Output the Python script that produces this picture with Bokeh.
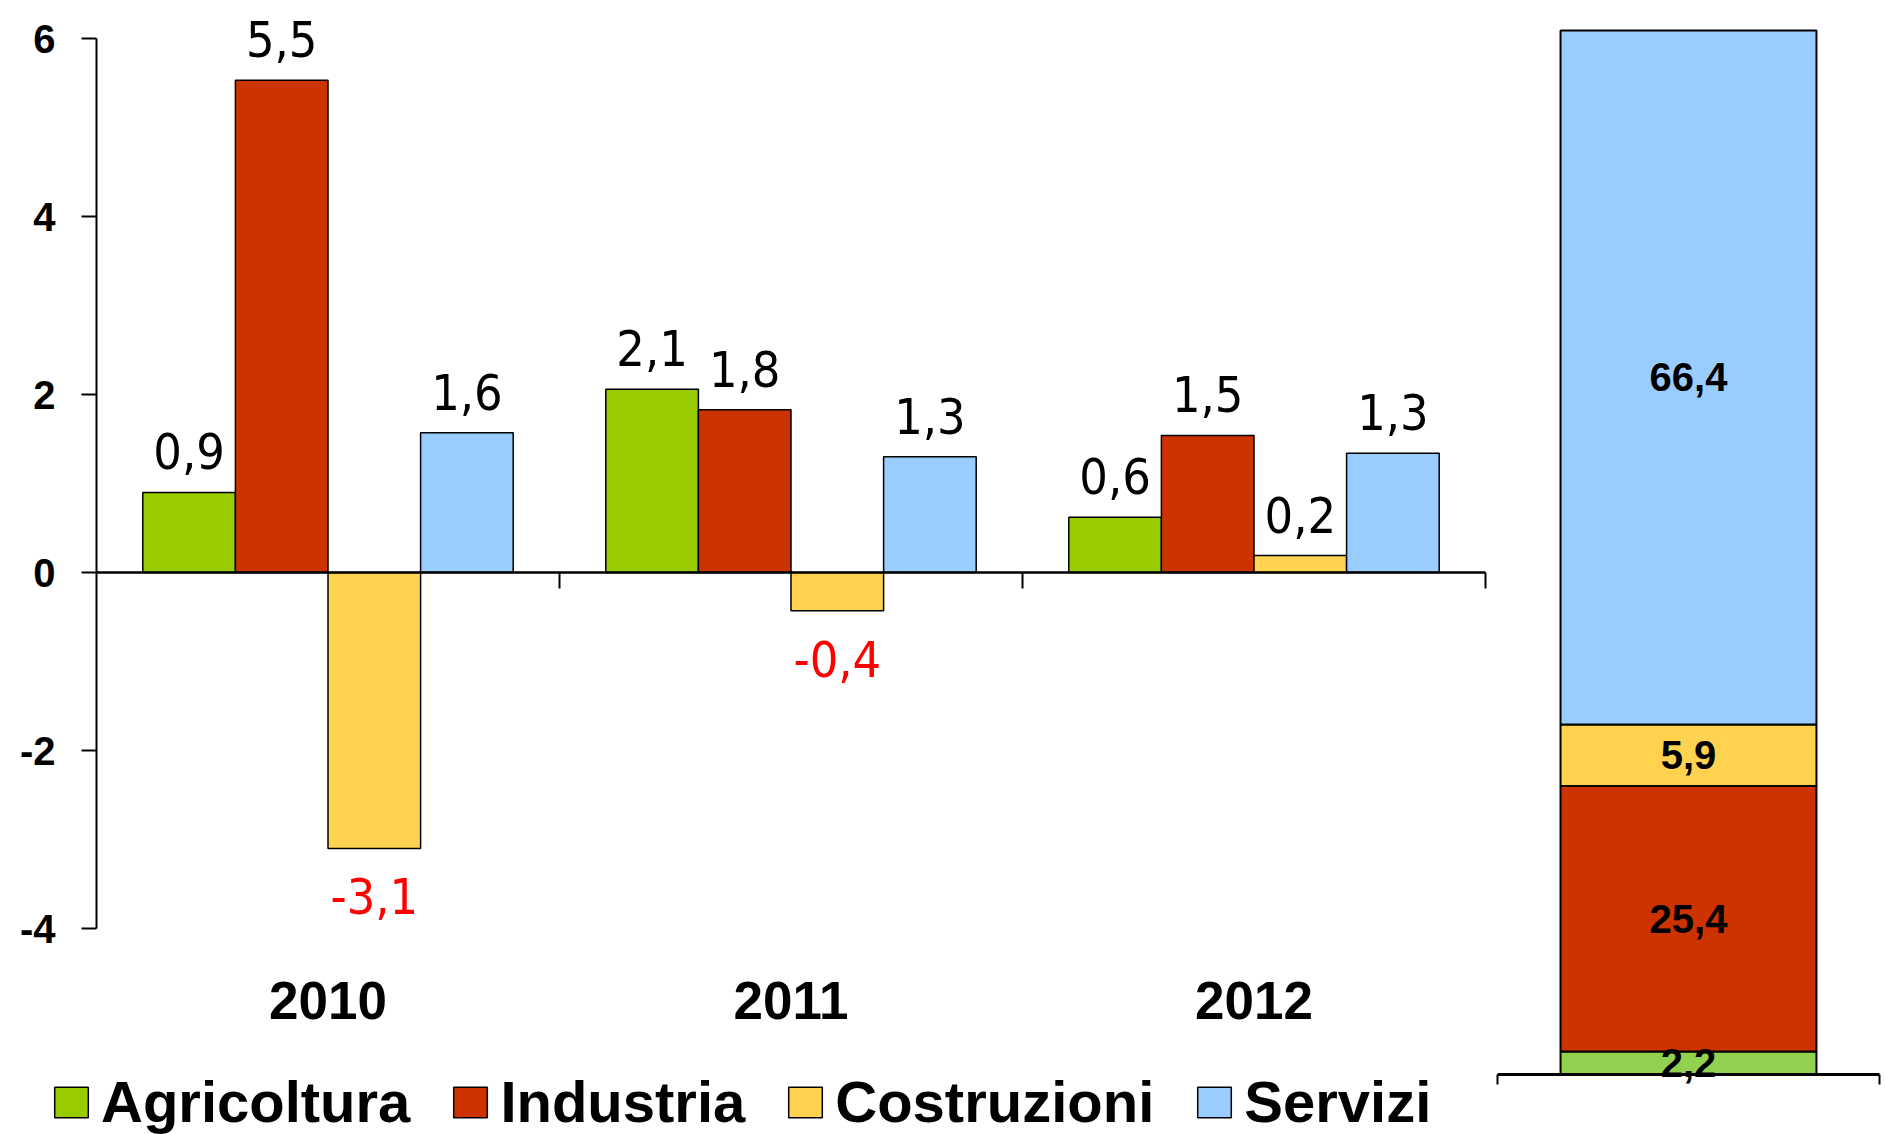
from bokeh.plotting import figure
from bokeh.models import (ColumnDataSource, Range1d, LinearAxis, FixedTicker,
                          LabelSet, Legend, LegendItem)
from bokeh.transform import dodge
from bokeh.embed import file_html
from bokeh.resources import INLINE
from bokeh.core.properties import value

# ---------------- data ----------------
years = ["2010", "2011", "2012"]
sectors = ["Agricoltura", "Industria", "Costruzioni", "Servizi"]
agricoltura = [0.9, 2.06, 0.62]
industria = [5.53, 1.83, 1.54]
costruzioni = [-3.1, -0.43, 0.19]
servizi = [1.57, 1.3, 1.34]
shares = [2.2, 25.4, 5.9, 66.4]          # composizione (Agricoltura, Industria, Costruzioni, Servizi)
y_ticks = [-4, -2, 0, 2, 4, 6]

series = [agricoltura, industria, costruzioni, servizi]
colors = ["#99CC00", "#CC3300", "#FFD34F", "#99CCFF"]
share_colors = ["#92D050", "#CC3300", "#FFD34F", "#99CCFF"]
offsets = [-0.3, -0.1, 0.1, 0.3]


def fmt(v):
    return f"{v:.1f}".replace(".", ",")


# ---------------- layout (canvas pixels) ----------------
W, H = 1885, 1134
X0, UX = 96, 463          # main chart: x=0 position, px per year slot
Y0, UY = 572, 89          # main chart: y=0 position, px per unit
CX0, CUX = 1497, 382      # composition bar: slot start, slot width
CY0, CUY = 1074, 10.45    # composition bar: 0 position, px per percentage point

xc = [i + 0.5 for i in range(len(years))]

p = figure(width=W, height=H,
           x_range=Range1d(-X0 / UX, (W - X0) / UX),
           y_range=Range1d(-(H - Y0) / UY, Y0 / UY),
           min_border=0, min_border_left=0, min_border_right=0,
           min_border_top=0, min_border_bottom=0,
           x_axis_location=None, y_axis_location=None,
           output_backend="svg", toolbar_location=None)
p.extra_x_ranges = {"comp": Range1d(-CX0 / CUX, (W - CX0) / CUX)}
p.extra_y_ranges = {"comp": Range1d(-(H - CY0) / CUY, CY0 / CUY)}
p.outline_line_color = None
p.xgrid.visible = False
p.ygrid.visible = False
p.background_fill_color = "white"
p.border_fill_color = "white"

# y axis
yax = LinearAxis(fixed_location=0, bounds=(y_ticks[0], y_ticks[-1]),
                 ticker=FixedTicker(ticks=y_ticks),
                 major_label_overrides={t: str(t) for t in y_ticks},
                 axis_line_width=2, major_tick_line_width=2,
                 major_tick_in=0, major_tick_out=15,
                 minor_tick_line_color=None, major_label_standoff=26,
                 major_label_text_font="Liberation Sans",
                 major_label_text_font_style="bold",
                 major_label_text_font_size="40px",
                 major_label_text_color="black")
p.add_layout(yax, "left")

# year labels
xax = LinearAxis(fixed_location=y_ticks[0], ticker=FixedTicker(ticks=xc),
                 major_label_overrides={x: y for x, y in zip(xc, years)},
                 axis_line_color=None, major_tick_line_color=None,
                 minor_tick_line_color=None, major_tick_out=0, major_tick_in=0,
                 major_label_standoff=53,
                 major_label_text_font="Liberation Sans",
                 major_label_text_font_style="bold",
                 major_label_text_font_size="53px",
                 major_label_text_color="black")
p.add_layout(xax, "below")

# zero line with year-boundary ticks
bticks = list(range(1, len(years) + 1))
zax = LinearAxis(fixed_location=0, bounds=(0, len(years)),
                 ticker=FixedTicker(ticks=bticks),
                 major_label_overrides={t: "" for t in bticks},
                 axis_line_width=2.5, major_tick_line_width=2,
                 major_tick_in=0, major_tick_out=16,
                 minor_tick_line_color=None)
p.add_layout(zax, "below")

src = ColumnDataSource(dict(x=xc, **{s: v for s, v in zip(sectors, series)}))

items = []
for s, vals, c, off in zip(sectors, series, colors, offsets):
    r = p.vbar(x=dodge("x", off), top=s, bottom=0, width=0.2,
               source=src, fill_color=c, line_color="black", line_width=1.5)
    items.append(LegendItem(label=s, renderers=[r]))
    lsrc = ColumnDataSource(dict(
        x=xc, y=vals,
        text=[fmt(v) for v in vals],
        color=["#FF0000" if v < 0 else "black" for v in vals],
        off=[-66 if v < 0 else 23 for v in vals],
    ))
    p.add_layout(LabelSet(x=dodge("x", off), y="y", text="text",
                          y_offset="off", text_color="color", source=lsrc,
                          text_align="center", text_baseline="alphabetic",
                          text_font=value("DejaVu Sans Condensed"),
                          text_font_size="50px"))

legend = Legend(items=items, orientation="horizontal", location=(50, -1),
                padding=0, margin=0, spacing=39, glyph_width=42, glyph_height=38,
                label_standoff=9, label_text_font="Liberation Sans",
                label_text_font_style="bold", label_text_font_size="58px",
                label_text_color="black",
                border_line_color=None, background_fill_alpha=0)
p.add_layout(legend)

# ---------------- composition bar ----------------
cat = ["composizione"]
cat_x = [i + 0.5 for i in range(len(cat))]
bottoms = []
tops = []
acc = 0.0
for v in shares:
    bottoms.append(acc)
    acc += v
    tops.append(acc)

ssrc = ColumnDataSource(dict(
    x=cat_x * len(shares), bottom=bottoms, top=tops, color=share_colors,
    mid=[(b + t) / 2 for b, t in zip(bottoms, tops)],
    text=[fmt(v) for v in shares],
))
p.vbar(x="x", bottom="bottom", top="top", width=0.67, source=ssrc,
       fill_color="color", line_color="black", line_width=2,
       x_range_name="comp", y_range_name="comp")
p.add_layout(LabelSet(x="x", y="mid", text="text", source=ssrc,
                      x_range_name="comp", y_range_name="comp",
                      text_align="center", text_baseline="middle",
                      text_font=value("Liberation Sans"), text_font_style="bold",
                      text_font_size="40px", text_color="black"))

cticks = [0, len(cat)]
cax = LinearAxis(x_range_name="comp", y_range_name="comp", fixed_location=0,
                 bounds=(0, len(cat)), ticker=FixedTicker(ticks=cticks),
                 major_label_overrides={t: "" for t in cticks},
                 axis_line_width=3, major_tick_line_width=2,
                 major_tick_in=0, major_tick_out=10,
                 minor_tick_line_color=None)
p.add_layout(cax, "below")

open("out.html", "w").write(file_html(p, INLINE))
